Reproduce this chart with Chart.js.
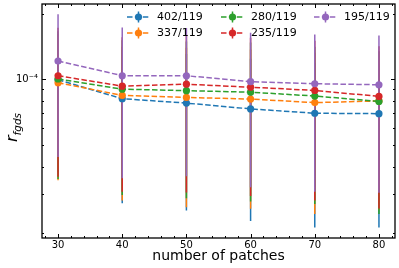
<!DOCTYPE html>
<html>
<head>
<meta charset="utf-8">
<script src="https://cdn.jsdelivr.net/npm/chart.js@4.4.1/dist/chart.umd.min.js"></script>
<style>
  html, body { margin: 0; padding: 0; background: #fff; }
  #wrap { width: 399px; height: 268px; position: relative; }
</style>
</head>
<body>
<div id="wrap"><canvas id="rChart"></canvas></div>
<script>
// número de parches y valores de r_fgds
const patches = [30, 40, 50, 60, 70, 80];
const seriesNames = ['402/119', '337/119', '280/119', '235/119', '195/119'];
const seriesColors = ['#1f77b4', '#ff7f0e', '#2ca02c', '#d62728', '#9467bd'];

const r402 = [0.997e-4, 0.817e-4, 0.780e-4, 0.734e-4, 0.701e-4, 0.698e-4];
const r337 = [0.967e-4, 0.846e-4, 0.828e-4, 0.814e-4, 0.784e-4, 0.798e-4];
const r280 = [1.005e-4, 0.903e-4, 0.889e-4, 0.875e-4, 0.840e-4, 0.794e-4];
const r235 = [1.040e-4, 0.932e-4, 0.952e-4, 0.922e-4, 0.891e-4, 0.837e-4];
const r195 = [1.214e-4, 1.040e-4, 1.040e-4, 0.977e-4, 0.956e-4, 0.946e-4];

// barras de error (simétricas)
const e402 = [0.620e-4, 0.545e-4, 0.528e-4, 0.508e-4, 0.490e-4, 0.487e-4];
const e337 = [0.620e-4, 0.566e-4, 0.567e-4, 0.557e-4, 0.541e-4, 0.545e-4];
const e280 = [0.654e-4, 0.606e-4, 0.602e-4, 0.598e-4, 0.570e-4, 0.551e-4];
const e235 = [0.680e-4, 0.625e-4, 0.647e-4, 0.628e-4, 0.611e-4, 0.579e-4];
const e195 = [0.771e-4, 0.686e-4, 0.678e-4, 0.655e-4, 0.649e-4, 0.642e-4];

const xTicks = [30, 40, 50, 60, 70, 80];
const yTicks = [1e-4];
const xMinorTicks = [28, 32, 34, 36, 38, 42, 44, 46, 48, 52, 54, 56, 58, 62, 64, 66, 68, 72, 74, 76, 78, 82];
const yMinorTicks = [2e-5, 3e-5, 4e-5, 5e-5, 6e-5, 7e-5, 8e-5, 9e-5, 2e-4];

const valores = [r402, r337, r280, r235, r195];
const errores = [e402, e337, e280, e235, e195];

Chart.defaults.font.family = "'DejaVu Sans', sans-serif";
Chart.defaults.color = '#000';

const dash = [5.5, 2.4];

// datasets: barras de error debajo, líneas con marcadores encima
// (en Chart.js el order más bajo se dibuja encima)
const datasets = [];
valores.forEach((vals, i) => {
    const pts = [];
    patches.forEach((x, j) => {
        pts.push({ x: x, y: vals[j] - errores[i][j] });
        pts.push({ x: x, y: vals[j] + errores[i][j] });
        pts.push({ x: x, y: null });
    });
    datasets.push({
        label: seriesNames[i] + ' err',
        data: pts,
        borderColor: seriesColors[i],
        borderWidth: 1.5,
        pointRadius: 0,
        spanGaps: false,
        order: 20 - i
    });
});
valores.forEach((vals, i) => {
    datasets.push({
        label: seriesNames[i],
        data: patches.map((x, j) => ({ x: x, y: vals[j] })),
        borderColor: seriesColors[i],
        backgroundColor: seriesColors[i],
        borderWidth: 1.5,
        borderDash: dash,
        pointRadius: 3.6,
        pointBorderWidth: 0,
        pointBackgroundColor: seriesColors[i],
        order: 10 - i
    });
});

// marco, ticks hacia adentro, título del eje y, leyenda
const decoracion = {
    id: 'decoracion',
    afterDraw(chart) {
        const ctx = chart.ctx;
        const a = chart.chartArea;
        const sx = chart.scales.x, sy = chart.scales.y;
        ctx.save();
        ctx.strokeStyle = '#000';
        ctx.lineWidth = 1;
        const tick = (x1, y1, x2, y2) => {
            ctx.beginPath(); ctx.moveTo(x1, y1); ctx.lineTo(x2, y2); ctx.stroke();
        };
        xTicks.forEach(v => {
            const px = Math.round(sx.getPixelForValue(v)) + 0.5;
            tick(px, a.bottom, px, a.bottom - 4);
            tick(px, a.top, px, a.top + 4);
        });
        xMinorTicks.forEach(v => {
            const px = Math.round(sx.getPixelForValue(v)) + 0.5;
            tick(px, a.bottom, px, a.bottom - 2);
            tick(px, a.top, px, a.top + 2);
        });
        yTicks.forEach(v => {
            const py = Math.round(sy.getPixelForValue(v)) + 0.5;
            tick(a.left, py, a.left + 4, py);
            tick(a.right, py, a.right - 4, py);
        });
        yMinorTicks.forEach(v => {
            const py = Math.round(sy.getPixelForValue(v)) + 0.5;
            tick(a.left, py, a.left + 2, py);
            tick(a.right, py, a.right - 2, py);
        });
        ctx.lineWidth = 1.3;
        ctx.strokeRect(a.left, a.top, a.right - a.left, a.bottom - a.top);

        // título eje y: r_fgds
        ctx.fillStyle = '#000';
        ctx.translate(17, (a.top + a.bottom) / 2 + 4);
        ctx.rotate(-Math.PI / 2);
        ctx.textBaseline = 'alphabetic';
        ctx.textAlign = 'left';
        ctx.font = "italic 16px 'DejaVu Sans'";
        const rw = ctx.measureText('r').width;
        ctx.fillText('r', -17, 0);
        ctx.font = "italic 10.5px 'DejaVu Sans'";
        ctx.fillText('fgds', -17 + rw, 3.5);
        ctx.restore();

        // leyenda en 3 columnas
        ctx.save();
        const cols = [a.left + 85, a.left + 179, a.left + 272];
        const rows = [a.top + 13, a.top + 29];
        ctx.font = "11px 'DejaVu Sans'";
        ctx.textBaseline = 'middle';
        seriesNames.forEach((name, i) => {
            const lx = cols[Math.floor(i / 2)];
            const ly = rows[i % 2];
            const c = seriesColors[i];
            ctx.strokeStyle = c;
            ctx.lineWidth = 1.5;
            ctx.setLineDash([]);
            ctx.beginPath(); ctx.moveTo(lx + 11.5, ly - 5.5); ctx.lineTo(lx + 11.5, ly + 5.5); ctx.stroke();
            ctx.setLineDash(dash);
            ctx.beginPath(); ctx.moveTo(lx, ly); ctx.lineTo(lx + 23, ly); ctx.stroke();
            ctx.setLineDash([]);
            ctx.fillStyle = c;
            ctx.beginPath(); ctx.arc(lx + 11.5, ly, 3.6, 0, Math.PI * 2); ctx.fill();
            ctx.fillStyle = '#000';
            ctx.fillText(name, lx + 30, ly + 0.5);
        });
        ctx.restore();
    }
};

const ctx = document.getElementById('rChart').getContext('2d');
new Chart(ctx, {
    type: 'line',
    data: { datasets: datasets },
    options: {
        responsive: true,
        maintainAspectRatio: false,
        animation: false,
        layout: { padding: { left: 0, right: 4, top: 3, bottom: 0 } },
        plugins: {
            legend: { display: false },
            tooltip: { enabled: false }
        },
        scales: {
            x: {
                type: 'linear',
                min: 27.5,
                max: 82.5,
                afterBuildTicks: s => { s.ticks = xTicks.map(v => ({ value: v })); },
                afterFit: s => { s.height = 30; s.paddingLeft = 0; s.paddingRight = 0; },
                grid: { display: false, drawTicks: false },
                border: { display: false },
                ticks: { font: { size: 10 }, padding: 1, maxRotation: 0 },
                title: {
                    display: true,
                    text: 'number of patches',
                    font: { size: 14 },
                    padding: { top: 0, bottom: 3 }
                }
            },
            y: {
                type: 'logarithmic',
                min: 1.89e-5,
                max: 2.21e-4,
                afterBuildTicks: s => { s.ticks = yTicks.map(v => ({ value: v })); },
                afterFit: s => { s.width = 42; s.paddingTop = 0; s.paddingBottom = 0; },
                grid: { display: false, drawTicks: false },
                border: { display: false },
                ticks: {
                    font: { size: 10 },
                    padding: 4,
                    callback: v => (v === 1e-4 ? '10⁻⁴' : '')
                }
            }
        }
    },
    plugins: [decoracion]
});
</script>
</body>
</html>
